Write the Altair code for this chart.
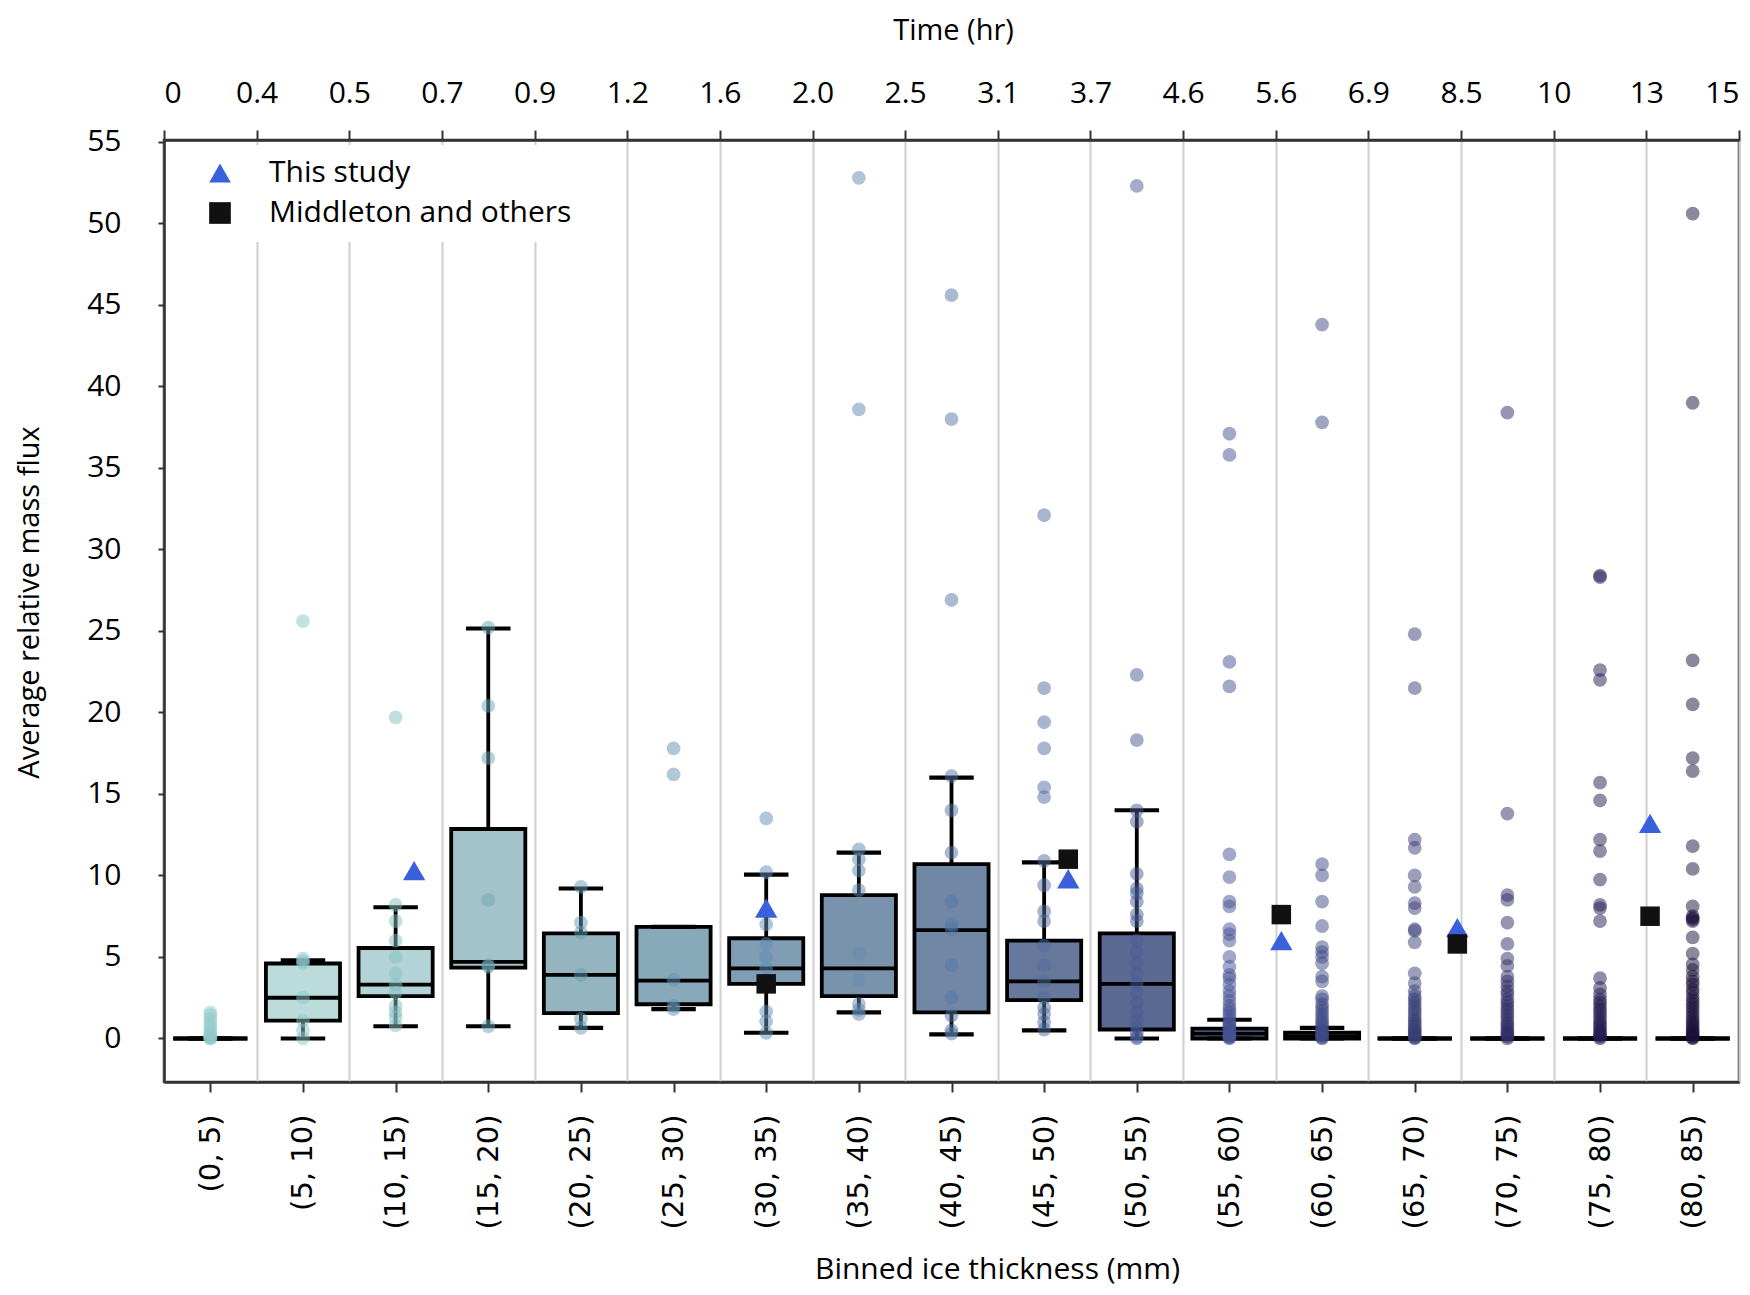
import json
import altair as alt
import pandas as pd

# ---------------- data ----------------
bin_labels = ["(0, 5)", "(5, 10)", "(10, 15)", "(15, 20)", "(20, 25)", "(25, 30)",
              "(30, 35)", "(35, 40)", "(40, 45)", "(45, 50)", "(50, 55)", "(55, 60)",
              "(60, 65)", "(65, 70)", "(70, 75)", "(75, 80)", "(80, 85)"]
bin_centers = [2.5, 7.5, 12.5, 17.5, 22.5, 27.5, 32.5, 37.5, 42.5, 47.5, 52.5,
               57.5, 62.5, 67.5, 72.5, 77.5, 82.5]
bin_edges = [0, 5, 10, 15, 20, 25, 30, 35, 40, 45, 50, 55, 60, 65, 70, 75, 80, 85]
time_labels = ["0", "0.4", "0.5", "0.7", "0.9", "1.2", "1.6", "2.0", "2.5", "3.1",
               "3.7", "4.6", "5.6", "6.9", "8.5", "10", "13", "15"]

q1 = [0, 1.1, 2.6, 4.35, 1.55, 2.1, 3.35, 2.6, 1.6, 2.35, 0.55, 0.0, 0.0, 0, 0, 0, 0]
med = [0, 2.5, 3.3, 4.7, 3.9, 3.55, 4.3, 4.3, 6.65, 3.5, 3.35, 0.3, 0.1, 0, 0, 0, 0]
q3 = [0, 4.6, 5.55, 12.85, 6.45, 6.85, 6.15, 8.8, 10.7, 6.0, 6.45, 0.6, 0.35, 0, 0, 0, 0]
w_lo = [0, 0.0, 0.75, 0.75, 0.65, 1.8, 0.35, 1.6, 0.25, 0.5, 0.0, 0, 0, 0, 0, 0, 0]
w_hi = [0, 4.8, 8.05, 25.15, 9.2, 6.85, 10.05, 11.4, 16.0, 10.8, 14.0, 1.15, 0.65, 0, 0, 0, 0]

points_by_bin = [
    [0, 0, 0.05, 0.1, 0.2, 0.3, 0.45, 0.6, 0.8, 1.0, 1.2, 1.45, 1.6],
    [25.6, 4.9, 4.75, 4.6, 2.5, 1.1, 0.5, 0.0],
    [19.7, 8.2, 7.2, 6.0, 5.0, 4.0, 3.3, 2.8, 2.0, 1.6, 1.3, 0.8],
    [25.2, 20.4, 17.2, 8.5, 4.5, 4.4, 0.75],
    [9.3, 7.1, 6.5, 3.9, 1.2, 0.65],
    [17.8, 16.2, 3.6, 2.0, 1.8],
    [13.5, 10.2, 7.0, 5.8, 5.0, 4.3, 3.6, 1.65, 1.05, 0.35],
    [52.8, 38.6, 11.6, 11.0, 10.3, 9.1, 5.2, 3.6, 2.1, 1.75, 1.5],
    [45.6, 38.0, 26.9, 16.1, 14.0, 11.4, 8.4, 7.0, 6.7, 4.5, 2.5, 1.4, 0.5, 0.3],
    [32.1, 21.5, 19.4, 17.8, 15.4, 14.8, 10.9, 9.4, 7.8, 7.2, 5.7, 4.5, 3.5, 2.5,
     1.9, 1.5, 1.0, 0.55],
    [52.3, 22.3, 18.3, 14.0, 13.3, 10.1, 9.2, 8.9, 8.4, 7.6, 7.2, 6.0, 5.3, 4.6,
     4.0, 3.4, 2.8, 2.2, 1.6, 1.1, 0.7, 0.35, 0.1, 0.0],
    [37.1, 35.8, 23.1, 21.6, 11.3, 9.9, 8.4, 8.1, 6.7, 6.4, 6.0, 5.0, 4.4, 3.9,
     3.7, 3.3, 2.9, 2.6, 2.3, 2.0, 1.8, 1.6, 1.4, 1.2, 1.0, 0.9, 0.8, 0.7, 0.6,
     0.5, 0.4, 0.3, 0.25, 0.2, 0.15, 0.1, 0.05, 0.0],
    [43.8, 37.8, 10.7, 10.0, 8.4, 6.9, 5.6, 5.3, 5.0, 4.6, 3.8, 3.5, 2.6, 2.4,
     2.1, 1.9, 1.7, 1.5, 1.3, 1.1, 0.95, 0.8, 0.65, 0.5, 0.4, 0.3, 0.2, 0.12,
     0.05, 0.0],
    [24.8, 21.5, 12.2, 11.7, 10.0, 9.3, 8.3, 8.0, 6.7, 6.6, 5.9, 4.0, 3.4, 2.9,
     2.6, 2.4, 2.2, 2.0, 1.8, 1.6, 1.4, 1.2, 1.05, 0.9, 0.75, 0.6, 0.5, 0.4, 0.3,
     0.2, 0.1, 0.05, 0.0],
    [38.4, 13.8, 8.8, 8.5, 7.1, 5.8, 4.9, 4.45, 3.8, 3.5, 3.2, 2.9, 2.7, 2.4,
     2.2, 2.0, 1.8, 1.6, 1.4, 1.2, 1.0, 0.85, 0.7, 0.55, 0.4, 0.3, 0.2, 0.1, 0.0],
    [28.4, 28.3, 22.6, 22.0, 15.7, 14.6, 12.2, 11.5, 9.75, 8.2, 8.0, 7.2, 3.7,
     3.1, 2.7, 2.4, 2.2, 2.0, 1.8, 1.6, 1.4, 1.2, 1.0, 0.85, 0.7, 0.55, 0.4, 0.3,
     0.2, 0.1, 0.0],
    [50.6, 39.0, 23.2, 20.5, 17.2, 16.4, 11.8, 10.4, 8.1, 7.5, 7.4, 7.3, 7.2, 6.2,
     5.2, 4.55, 4.2, 3.8, 3.5, 3.3, 3.0, 2.8, 2.5, 2.3, 2.1, 1.9, 1.7, 1.5, 1.3,
     1.1, 0.95, 0.8, 0.65, 0.5, 0.4, 0.3, 0.2, 0.1, 0.05, 0.0],
]

sources = ["This study", "Middleton and others"]
this_study_x = [13.5, 32.5, 48.8, 60.3, 69.8, 80.2]
this_study_y = [10.3, 8.0, 9.8, 6.0, 6.8, 13.2]
middleton_x = [32.5, 48.8, 60.3, 69.8, 80.2]
middleton_y = [3.35, 11.0, 7.6, 5.8, 7.5]

y_ticks = [0, 5, 10, 15, 20, 25, 30, 35, 40, 45, 50, 55]

# ---------------- styles ----------------
box_colors = ["#c3e0df", "#bcdcdc", "#b3d3d7", "#a3c2c9", "#94b5c0", "#88a9b9",
              "#7f9db3", "#7993ad", "#7088a6", "#66799d", "#5b6a92", "#5a6a9e",
              "#4f5d94", "#454e86", "#3b3f77", "#2f2d62", "#241f4d"]
pt_colors = ["#91c9c9", "#8bc5c5", "#85bfc1", "#6ba5b1", "#659bb1", "#6191b1",
             "#618db5", "#6189b1", "#5375a5", "#4f6b9d", "#475b95", "#455191",
             "#3f4985", "#393d75", "#2f2d65", "#231b51", "#190f39"]
marker_colors = ["#3b60dc", "#111111"]
marker_shapes = ["triangle-up", "square"]
FONT = "Open Sans"
FS = 30

# ---------------- tables ----------------
stats = pd.DataFrame({"bin": bin_labels, "center": bin_centers, "q1": q1, "med": med,
                      "q3": q3, "wlo": w_lo, "whi": w_hi})
pts = pd.DataFrame([{"bin": b, "center": c, "value": v}
                    for b, c, vals in zip(bin_labels, bin_centers, points_by_bin)
                    for v in vals])
markers = pd.DataFrame(
    [{"bin": sources[0], "x": x, "y": y} for x, y in zip(this_study_x, this_study_y)]
    + [{"bin": sources[1], "x": x, "y": y} for x, y in zip(middleton_x, middleton_y)]
)

# one shared colour / shape domain so that the legends merge
cat_domain = bin_labels + sources
color_scale = alt.Scale(domain=cat_domain, range=pt_colors + marker_colors)
shape_scale = alt.Scale(domain=cat_domain, range=["circle"] * len(bin_labels) + marker_shapes)

xs = alt.Scale(domain=[0, 85], nice=False, zero=False)
ys = alt.Scale(domain=[-2.67, 55.12], nice=False, zero=False)

y_axis = alt.Axis(values=y_ticks, grid=False, labelFont=FONT, labelFontSize=FS,
                  labelColor="black", labelPadding=37, tickSize=6, tickWidth=2,
                  tickColor="#333333", domainColor="#333333", domainWidth=2.5,
                  title="Average relative mass flux", titleFont=FONT, titleFontSize=29,
                  titleFontWeight="normal", titleColor="black", titleAngle=270,
                  titleX=-126, titleY=462, titleAlign="center", titleBaseline="alphabetic")

bottom_axis = alt.Axis(orient="bottom", values=bin_centers,
                       labelExpr=f"{json.dumps(bin_labels)}[indexof({json.dumps(bin_centers)}, datum.value)]",
                       labelAngle=270, labelFont="DejaVu Sans", labelFontSize=29,
                       labelColor="black", labelPadding=22, labelAlign="right",
                       labelBaseline="middle",
                       tickSize=10, tickWidth=2, tickColor="#333333", grid=False,
                       domainColor="#333333", domainWidth=2.5,
                       title="Binned ice thickness (mm)", titleFont=FONT, titleFontSize=FS,
                       titleFontWeight="normal", titleColor="black", titleX=833, titleY=196,
                       titleAlign="center", titleBaseline="alphabetic")

top_axis = alt.Axis(orient="top", values=bin_edges,
                    labelExpr=f"{json.dumps(time_labels)}[indexof({json.dumps(bin_edges)}, datum.value)]",
                    labelFont=FONT, labelFontSize=FS, labelColor="black", labelPadding=22,
                    labelFlush=True, labelAngle=0,
                    tickSize=10, tickWidth=2, tickColor="#333333", grid=True,
                    gridColor="#cfcfcf", gridWidth=2,
                    domainColor="#333333", domainWidth=2.5,
                    title="Time (hr)", titleFont=FONT, titleFontSize=29,
                    titleFontWeight="normal", titleColor="black", titleX=789, titleY=-101,
                    titleAlign="center", titleBaseline="alphabetic")


def Y(field):
    return alt.Y(field, type="quantitative", scale=ys, axis=y_axis)


legend = alt.Legend(orient="none", legendX=28, legendY=5, title=None, values=sources,
                    labelFont=FONT, labelFontSize=FS, labelColor="black", labelLimit=0,
                    symbolSize=470, symbolStrokeWidth=0, symbolOpacity=1,
                    labelOffset=34, rowPadding=10, padding=13,
                    fillColor="white", strokeColor="white")

base = alt.Chart(stats).transform_calculate(
    xl="datum.center - 2", xr="datum.center + 2",
    cl="datum.center - 1.2", cr="datum.center + 1.2")

whiskers = base.mark_rule(color="black", strokeWidth=3.8).encode(
    x=alt.X("center:Q", scale=xs, axis=top_axis),
    y=Y("wlo"), y2="whi:Q")

boxes = base.mark_bar(stroke="black", strokeWidth=3.8).encode(
    x=alt.X("xl:Q", scale=xs, axis=bottom_axis), x2="xr:Q",
    y=Y("q1"), y2="q3:Q",
    fill=alt.Fill("bin:N", scale=alt.Scale(domain=bin_labels, range=box_colors), legend=None))

medians = base.mark_rule(color="black", strokeWidth=3.8).encode(
    x=alt.X("xl:Q", scale=xs, axis=None), x2="xr:Q", y=Y("med"))

caps = base.transform_fold(["wlo", "whi"], as_=["which", "capv"]).mark_rule(
    color="black", strokeWidth=4.2).encode(
    x=alt.X("cl:Q", scale=xs, axis=None), x2="cr:Q", y=Y("capv"))

points = alt.Chart(pts).mark_circle(size=190, opacity=0.5).encode(
    x=alt.X("center:Q", scale=xs, axis=None), y=Y("value"),
    color=alt.Color("bin:N", scale=color_scale, legend=legend))

marks = alt.Chart(markers).mark_point(filled=True, opacity=1, strokeWidth=0).encode(
    x=alt.X("x:Q", scale=xs, axis=None), y=Y("y"),
    color=alt.Color("bin:N", scale=color_scale, legend=legend),
    shape=alt.Shape("bin:N", scale=shape_scale, legend=legend),
    size=alt.Size("bin:N", scale=alt.Scale(domain=sources, range=[500, 380]), legend=None),
    order=alt.Order("bin:N", sort="descending"))

chart = alt.layer(whiskers, boxes, medians, caps, points, marks).resolve_axis(
    x="independent").properties(
    width=1575, height=942,
    padding={"left": 156, "top": 132, "right": 3, "bottom": 205},
    autosize=alt.AutoSizeParams(type="none"),
    background="white",
).configure_view(stroke="#333333", strokeWidth=2.5)

chart.save("out.html", embed_options={"renderer": "svg", "actions": False})
